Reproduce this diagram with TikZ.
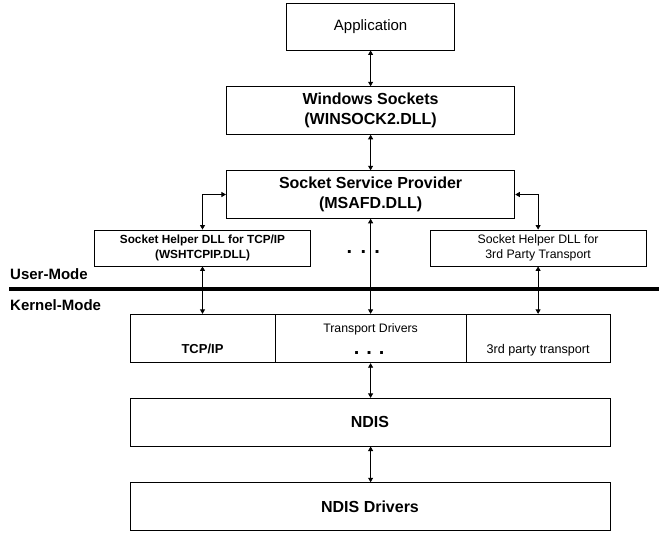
\documentclass[tikz,border=0pt]{standalone}
\usepackage{fontspec}
\setmainfont{Liberation Sans}
\usetikzlibrary{arrows.meta}

\begin{document}
\begin{tikzpicture}[x=1pt,y=-1pt]
        \tikzset{box/.style = {shape=rectangle,draw,line width=0.9pt,inner sep=0pt,align=center}}
        \tikzset{edge/.style = {<->,line width=0.8pt,> = {Triangle[length=4.5pt,width=5pt]}}}
        \tikzset{big/.style = {font=\fontsize{16}{19.3}\selectfont\bfseries}}
        \tikzset{plain/.style = {font=\fontsize{12.3}{15}\selectfont}}
        \tikzset{helper/.style = {font=\fontsize{11.8}{15}\selectfont\bfseries}}
        \tikzset{modelabel/.style = {font=\fontsize{15}{18}\selectfont\bfseries,inner sep=0pt}}
        \tikzset{dotrow/.style = {font=\fontsize{20}{20}\selectfont\bfseries,inner sep=0pt}}
        \useasboundingbox (0,0) rectangle (668,533);

        % user mode
        \node[box, minimum width=168pt, minimum height=47pt, font=\fontsize{15}{18}\selectfont] (app) at (370.6,26.5) {Application};
        \node[box, big, minimum width=288.4pt, minimum height=47.6pt] (ws) at (370.6,110.5) {Windows Sockets\\(WINSOCK2.DLL)};
        \node[box, big, minimum width=288.4pt, minimum height=47.6pt] (ssp) at (370.6,194.5) {Socket Service Provider\\(MSAFD.DLL)};
        \node[box, helper, minimum width=216pt, minimum height=36pt] (helpL) at (202.5,248) {Socket Helper DLL for TCP/IP\\(WSHTCPIP.DLL)};
        \node[box, plain, minimum width=216pt, minimum height=36pt] (helpR) at (538.1,248) {Socket Helper DLL for\\3rd Party Transport};
        \node[dotrow, anchor=base] (gap) at (363.3,253.8) {.\hspace{8.4pt}.\hspace{8.4pt}.};

        % mode boundary
        \coordinate (bl) at (9,288.7);
        \coordinate (br) at (659,288.7);
        \draw[line width=4pt] (bl) -- (br);
        \node[modelabel, anchor=base west] (user) at (10,279.3) {User-Mode};
        \node[modelabel, anchor=base west] (kernel) at (10,310.5) {Kernel-Mode};

        % kernel mode
        \node[box, minimum width=145pt, minimum height=48.4pt] (tcp) at (202.5,338.5) {};
        \node[box, minimum width=191.2pt, minimum height=48.4pt] (drv) at (370.6,338.5) {};
        \node[box, minimum width=143.8pt, minimum height=48.4pt] (third) at (538.1,338.5) {};
        \node[font=\fontsize{13}{15}\selectfont\bfseries, anchor=base] (tcptxt) at (202.5,353.3) {TCP/IP};
        \node[plain, anchor=base] (drvtxt) at (370.6,332.5) {Transport Drivers};
        \node[dotrow, anchor=base] (drvdots) at (369.2,354.7) {.\hspace{6.9pt}.\hspace{6.9pt}.};
        \node[font=\fontsize{12.6}{15}\selectfont, anchor=base] (thirdtxt) at (538.1,353.3) {3rd party transport};
        \node[box, big, minimum width=480pt, minimum height=47.7pt] (ndis) at (370,422.2) {NDIS};
        \node[box, big, minimum width=480pt, minimum height=47.6pt] (drvs) at (370,506.5) {NDIS Drivers};

        \draw[edge] (app) -- (ws);
        \draw[edge] (ws) -- (ssp);
        \draw[edge] (ssp.west) -| (helpL.north);
        \draw[edge] (ssp.east) -| (helpR.north);
        \draw[edge] (ssp.south) -- (ssp.south |- drv.north);
        \draw[edge] (helpL) -- (tcp);
        \draw[edge] (helpR) -- (third);
        \draw[edge] (drv.south) -- (drv.south |- ndis.north);
        \draw[edge] (drv.south |- ndis.south) -- (drv.south |- drvs.north);
\end{tikzpicture}
\end{document}
